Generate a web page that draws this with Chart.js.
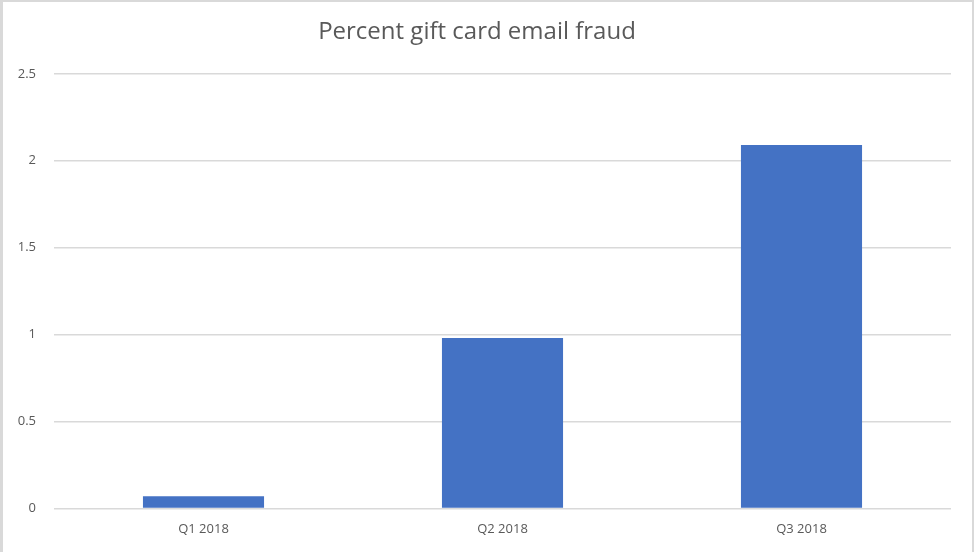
<!DOCTYPE html>
<html>
<head>
<meta charset="utf-8">
<script src="https://cdn.jsdelivr.net/npm/chart.js@4/dist/chart.umd.min.js"></script>
<style>
  html, body { margin: 0; padding: 0; background: #fff; }
  #frame {
    position: absolute; left: 0; top: 0;
    width: 974px; height: 552px;
    box-sizing: border-box;
    border-top: 2px solid #d9d9d9;
    border-left: 3px solid #d9d9d9;
    border-right: 2px solid #d9d9d9;
  }
  #frame canvas { display: block; }
</style>
</head>
<body>
<div id="frame"><canvas id="fraudChart"></canvas></div>
<script>
/* DATA */
const quarters = ["Q1 2018", "Q2 2018", "Q3 2018"];
const percentFraud = [0.07, 0.98, 2.09];
const yTicks = [0, 0.5, 1, 1.5, 2, 2.5];

const textColor = "#595959";
const fontFamily = "'Open Sans', 'Noto Sans', sans-serif";

new Chart(document.getElementById("fraudChart"), {
  type: "bar",
  data: {
    labels: quarters,
    datasets: [{
      label: "Percent",
      data: percentFraud,
      backgroundColor: "#4472C4",
      borderWidth: 0,
      barPercentage: 0.405,
      categoryPercentage: 1
    }]
  },
  options: {
    responsive: true,
    maintainAspectRatio: false,
    animation: false,
    layout: { padding: { top: 0, right: 21, bottom: 0, left: 0 } },
    plugins: {
      legend: { display: false },
      tooltip: { enabled: false },
      title: {
        display: true,
        text: "Percent gift card email fraud",
        color: textColor,
        font: { family: fontFamily, size: 24, weight: "normal", lineHeight: 1.2 },
        padding: { top: 16, bottom: 27 }
      }
    },
    scales: {
      x: {
        grid: { display: false, drawTicks: false },
        border: { display: false },
        ticks: {
          color: textColor,
          font: { family: fontFamily, size: 13 },
          padding: 13
        },
        afterFit: (scale) => { scale.height = 43.5; }
      },
      y: {
        min: 0,
        max: 2.5,
        afterBuildTicks: (scale) => {
          scale.ticks = yTicks.map(v => ({ value: v }));
        },
        grid: { color: "#d9d9d9", lineWidth: 1.5, drawTicks: false },
        border: { display: false },
        ticks: {
          color: textColor,
          font: { family: fontFamily, size: 13 },
          padding: 18,
          callback: (value) => String(value)
        },
        afterFit: (scale) => { scale.width = 51; }
      }
    }
  }
});
</script>
</body>
</html>
